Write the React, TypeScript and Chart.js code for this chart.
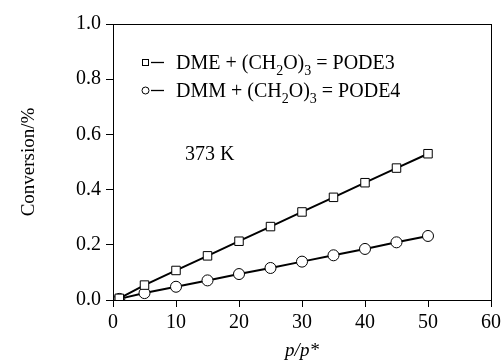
import React, { useEffect, useRef } from "react";
import { Chart, registerables } from "chart.js";

Chart.register(...registerables);

const xValues = [1, 5, 10, 15, 20, 25, 30, 35, 40, 45, 50];
const podE3 = [0.006, 0.054, 0.107, 0.16, 0.213, 0.266, 0.319, 0.372, 0.425, 0.478, 0.53];
const podE4 = [0.004, 0.025, 0.048, 0.071, 0.094, 0.116, 0.139, 0.162, 0.185, 0.209, 0.232];
const seriesLabels = ["DME + (CH2O)3 = PODE3", "DMM + (CH2O)3 = PODE4"];
const yTitle = "Conversion/%";
const xTitle = "p/p*";
const annotation = "373 K";

const FONT = "'Liberation Serif', 'Times New Roman', serif";

function drawSubText(ctx: CanvasRenderingContext2D, text: string, x: number, y: number, size: number) {
  // digits right after "H" or ")" are drawn as subscripts (chemical formula)
  let cx = x;
  for (let i = 0; i < text.length; i++) {
    const ch = text[i];
    const prev = i > 0 ? text[i - 1] : "";
    const isSub = /[0-9]/.test(ch) && (prev === "H" || prev === ")");
    if (isSub) {
      ctx.font = `${Math.round(size * 0.7)}px ${FONT}`;
      ctx.fillText(ch, cx, y + size * 0.28);
    } else {
      ctx.font = `${size}px ${FONT}`;
      ctx.fillText(ch, cx, y);
    }
    cx += ctx.measureText(ch).width;
  }
}

const overlay = {
  id: "overlay",
  afterDraw(chart: any) {
    const ctx = chart.ctx as CanvasRenderingContext2D;
    const a = chart.chartArea;
    ctx.save();
    ctx.strokeStyle = "#000";
    ctx.lineWidth = 1;
    ctx.strokeRect(Math.round(a.left) + 0.5, Math.round(a.top) + 0.5, Math.round(a.right - a.left), Math.round(a.bottom - a.top));

    ctx.textBaseline = "alphabetic";
    ctx.textAlign = "left";
    const rows = [
      { y: 62, style: "rect" },
      { y: 90, style: "circle" },
    ];
    rows.forEach((r, i) => {
      ctx.strokeStyle = "#000";
      ctx.lineWidth = 1;
      ctx.fillStyle = "#fff";
      if (r.style === "rect") {
        ctx.fillRect(142, r.y - 3, 6, 6);
        ctx.strokeRect(142.5, r.y - 2.5, 6, 6);
      } else {
        ctx.beginPath();
        ctx.arc(145.5, r.y + 0.5, 3.5, 0, Math.PI * 2);
        ctx.fill();
        ctx.stroke();
      }
      ctx.lineWidth = 1.3;
      ctx.beginPath();
      ctx.moveTo(151, r.y + 0.5);
      ctx.lineTo(164, r.y + 0.5);
      ctx.stroke();
      ctx.fillStyle = "#000";
      drawSubText(ctx, seriesLabels[i], 176, r.y + 7, 20);
    });

    ctx.font = `20px ${FONT}`;
    ctx.fillText(annotation, 185, 160);

    ctx.textAlign = "center";
    ctx.font = `italic 19px ${FONT}`;
    ctx.fillText(xTitle, 302, 356);

    ctx.save();
    ctx.translate(34, 162);
    ctx.rotate(-Math.PI / 2);
    ctx.font = `19px ${FONT}`;
    ctx.fillText(yTitle, 0, 0);
    ctx.restore();
    ctx.restore();
  },
};

export default function App() {
  const ref = useRef<HTMLCanvasElement>(null);
  useEffect(() => {
    document.body.style.margin = "0";
    const chart = new Chart(ref.current!, {
      type: "line",
      data: {
        datasets: [
          {
            label: seriesLabels[0],
            data: xValues.map((x, i) => ({ x, y: podE3[i] })),
            borderColor: "#000",
            borderWidth: 2,
            pointStyle: "rect",
            pointRadius: 6,
            pointBackgroundColor: "#fff",
            pointBorderColor: "#000",
            pointBorderWidth: 1,
          },
          {
            label: seriesLabels[1],
            data: xValues.map((x, i) => ({ x, y: podE4[i] })),
            borderColor: "#000",
            borderWidth: 2,
            pointStyle: "circle",
            pointRadius: 5.5,
            pointBackgroundColor: "#fff",
            pointBorderColor: "#000",
            pointBorderWidth: 1,
          },
        ],
      },
      options: {
        animation: false,
        responsive: false,
        devicePixelRatio: 1,
        layout: { padding: { left: 0, top: 24, right: 10, bottom: 0 } },
        plugins: { legend: { display: false }, tooltip: { enabled: false } },
        scales: {
          x: {
            type: "linear",
            min: 0,
            max: 60,
            ticks: { stepSize: 10, color: "#000", padding: 4, font: { family: FONT, size: 20 }, maxRotation: 0 },
            grid: { drawOnChartArea: false, drawTicks: true, tickLength: 7, color: "#000" },
            border: { display: true, color: "#000", width: 1 },
            afterFit: (s: any) => {
              s.height = 60;
              s.paddingLeft = 0;
              s.paddingRight = 0;
            },
          },
          y: {
            type: "linear",
            min: 0,
            max: 1,
            ticks: {
              stepSize: 0.2,
              color: "#000",
              padding: 5,
              font: { family: FONT, size: 20 },
              callback: (v: any) => Number(v).toFixed(1),
            },
            grid: { drawOnChartArea: false, drawTicks: true, tickLength: 7, color: "#000" },
            border: { display: true, color: "#000", width: 1 },
            afterFit: (s: any) => {
              s.width = 113;
              s.paddingTop = 0;
              s.paddingBottom = 0;
            },
          },
        },
      },
      plugins: [overlay],
    });
    return () => chart.destroy();
  }, []);
  return (
    <div style={{ width: 501, height: 360 }}>
      <canvas ref={ref} width={501} height={360} style={{ display: "block" }} />
    </div>
  );
}
